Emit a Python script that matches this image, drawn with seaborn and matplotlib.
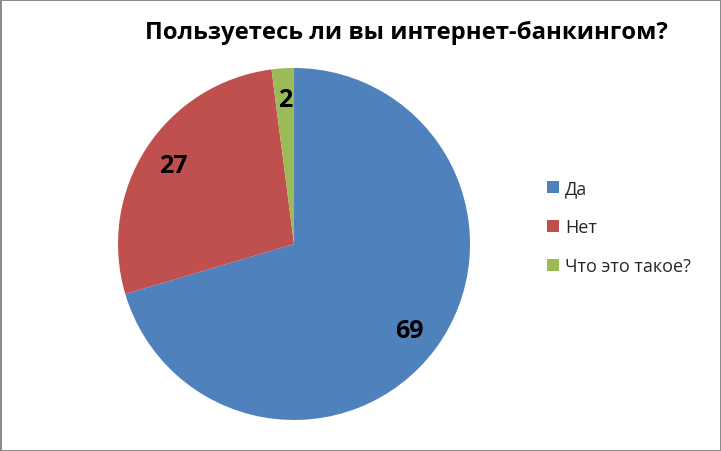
import matplotlib
matplotlib.use('Agg')
import matplotlib.pyplot as plt
import seaborn as sns

# %% Dados
categorias = ['Да', 'Нет', 'Что это такое?']
valores = [69, 27, 2]
cores = ['#4F81BD', '#C0504D', '#9BBB59']
titulo = 'Пользуетесь ли вы интернет-банкингом?'

# %% Estilo
sns.set_theme(style='white')
plt.rcParams['font.family'] = ['Open Sans', 'DejaVu Sans']

fig = plt.figure(figsize=(7.21, 4.52), dpi=100, facecolor='white',
                 edgecolor='#8c8c8c', linewidth=2)
ax = fig.add_axes([0.1637, 0.0686, 0.4882, 0.7788])

wedges, textos, autotextos = ax.pie(
    valores, colors=cores, startangle=90, counterclock=False,
    autopct=lambda p: f'{p * sum(valores) / 100:.0f}', pctdistance=0.82,
    wedgeprops={'linewidth': 0},
    textprops={'fontsize': 18, 'fontweight': 'bold', 'color': 'black'})
ax.set_xlim(-1, 1)
ax.set_ylim(-1, 1)
ax.set_aspect('equal')

# titulo
fig.text(406 / 721, 1 - 33 / 452, titulo, ha='center', va='center',
         fontsize=17.2, fontweight='bold', color='black')

# legenda
fig.legend(wedges, categorias, loc='upper left',
           bbox_to_anchor=(531 / 721, 1 - 164 / 452), frameon=False,
           fontsize=13, handlelength=0.65, handleheight=0.65,
           handletextpad=0.35, labelspacing=1.17)

plt.savefig('out.png', dpi=100, facecolor=fig.get_facecolor(),
            edgecolor=fig.get_edgecolor())
